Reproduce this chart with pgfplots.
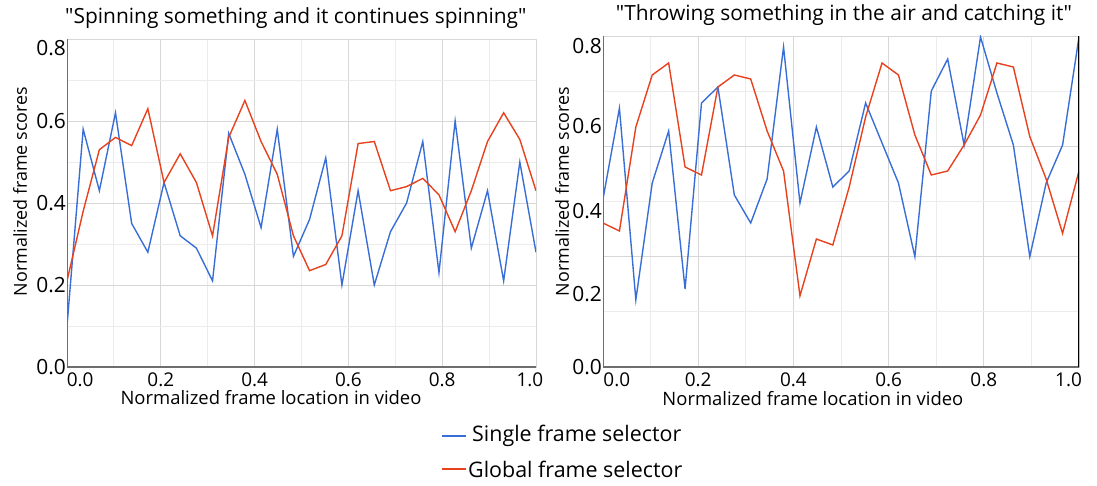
\documentclass[border=0pt]{standalone}
\usepackage{fontspec}
\setmainfont{Open Sans}
\usepackage{pgfplots}
\usepackage{pgfplotstable}
\pgfplotsset{compat=1.18}

\definecolor{cblue}{RGB}{58,110,215}
\definecolor{cred}{RGB}{232,65,30}
\definecolor{gmaj}{RGB}{215,215,215}
\definecolor{gmin}{RGB}{236,236,236}
\definecolor{spine}{RGB}{110,110,110}

% frame index / 29, then the four series
\pgfplotstableread{
x      sl    gl     sr     gr
0.0000 0.10  0.21   0.42   0.36
0.0345 0.58  0.38   0.647  0.34
0.0690 0.43  0.53   0.168  0.60
0.1034 0.62  0.56   0.46   0.73
0.1379 0.35  0.54   0.59   0.76
0.1724 0.28  0.63   0.195  0.50
0.2069 0.45  0.45   0.66   0.48
0.2414 0.32  0.52   0.70   0.70
0.2759 0.29  0.45   0.43   0.73
0.3103 0.21  0.32   0.36   0.72
0.3448 0.57  0.56   0.47   0.59
0.3793 0.47  0.65   0.80   0.49
0.4138 0.34  0.55   0.41   0.178
0.4483 0.58  0.47   0.60   0.32
0.4828 0.27  0.32   0.45   0.305
0.5172 0.36  0.235  0.49   0.45
0.5517 0.51  0.25   0.66   0.625
0.5862 0.20  0.32   0.56   0.76
0.6207 0.43  0.545  0.46   0.73
0.6552 0.20  0.55   0.276  0.58
0.6897 0.33  0.43   0.69   0.48
0.7241 0.40  0.44   0.77   0.49
0.7586 0.55  0.46   0.555  0.555
0.7931 0.23  0.42   0.825  0.63
0.8276 0.60  0.33   0.685  0.76
0.8621 0.29  0.43   0.555  0.75
0.8966 0.43  0.55   0.276  0.576
0.9310 0.21  0.62   0.46   0.47
0.9655 0.50  0.555  0.555  0.334
1.0000 0.28  0.43   0.825  0.49
}\frames

\pgfplotsset{
  frame/.style={
    scale only axis,
    anchor=south west,
    xmin=0, xmax=1,
    ymin=0,
    axis line style={draw=gmaj},
    major tick length=0pt, minor tick length=0pt,
    xtick={0.2,0.4,0.6,0.8},
    xticklabels={0.2,0.4,0.6,0.8},
    minor xtick={0.1,0.3,0.5,0.7,0.9},
    xmajorgrids, xminorgrids,
    major grid style={draw=gmaj, line width=0.9bp},
    minor grid style={draw=gmin, line width=0.9bp},
    /pgf/number format/assume math mode=true,
    x tick label style={font=\fontsize{19}{22}\selectfont, anchor=north, inner sep=0pt, yshift=-6bp},
    y tick label style={font=\fontsize{21}{24}\selectfont, anchor=east, inner sep=0pt, xshift=-1bp},
    extra x tick style={grid=none},
    xlabel={Normalized frame location in video},
    xlabel style={font=\fontsize{18.5}{22}\selectfont},
    ylabel={Normalized frame scores},
    ylabel style={font=\fontsize{18}{21}\selectfont, rotate=0},
    title style={font=\fontsize{21}{25}\selectfont, anchor=base, yshift=10bp},
    clip=true,
  },
}

\begin{document}
\begin{tikzpicture}
\path[use as bounding box] (0,0) rectangle (1097bp,-486bp);

\begin{axis}[frame,
  at={(67bp,-367bp)},
  width=469bp, height=328bp,
  ymax=0.8,
  ytick={0,0.2,0.4,0.6},
  yticklabels={0.0,0.2,0.4,0.6},
  minor ytick={0.1,0.3,0.5,0.7},
  ymajorgrids, yminorgrids,
  extra y ticks={0.778},
  extra y tick labels={0.8},
  extra y tick style={grid=none},
  extra x ticks={0.028,0.987},
  extra x tick labels={0.0,1.0},
  xlabel style={at={(axis description cs:0.435,-0.0945)}, anchor=center},
  ylabel style={at={(axis description cs:-0.100,0.535)}, anchor=center},
  title={\textquotedbl Spinning something and it continues spinning\textquotedbl},
  title style={at={(axis description cs:0.488,1)}},
]
\addplot[color=cblue, line width=1.4bp, mark=none] table[x=x, y=sl] {\frames};
\addplot[color=cred, line width=1.4bp, mark=none] table[x=x, y=gl] {\frames};
\draw[spine, line width=1.1bp] (rel axis cs:0,1) -- (rel axis cs:0,0) -- (rel axis cs:1,0);
\end{axis}

\begin{axis}[frame,
  at={(603bp,-367bp)},
  width=476bp, height=331bp,
  ymax=0.8275,
  ytick={0,0.1825,0.39,0.6025,0.8025},
  yticklabels={0.0,0.2,0.4,0.6,0.8},
  ymajorgrids=false,
  minor ytick={0.1379,0.4138,0.6896},
  yminorgrids,
  extra y ticks={0.2758,0.5517},
  extra y tick labels={},
  extra y tick style={grid=major},
  extra x ticks={0.029,0.978},
  extra x tick labels={0.0,1.0},
  xlabel style={at={(axis description cs:0.441,-0.094)}, anchor=center},
  ylabel style={at={(axis description cs:-0.086,0.53)}, anchor=center},
  title={\textquotedbl Throwing something in the air and catching it\textquotedbl},
  title style={at={(axis description cs:0.506,1)}},
]
\addplot[color=cblue, line width=1.4bp, mark=none] table[x=x, y=sr] {\frames};
\addplot[color=cred, line width=1.4bp, mark=none] table[x=x, y=gr] {\frames};
\draw[spine, line width=1.1bp] (rel axis cs:0,1) -- (rel axis cs:0,0) -- (rel axis cs:1,0);
\draw[black, line width=1.1bp] (rel axis cs:1,0) -- (rel axis cs:1,1);
\end{axis}

% legend, shared by both panels
\draw[cblue, line width=1.4bp] (442bp,-436bp) -- (466bp,-436bp);
\node[anchor=west, inner sep=0pt, font=\fontsize{21.5}{25}\selectfont] at (472bp,-436bp) {Single frame selector};
\draw[cred, line width=1.4bp] (442bp,-469bp) -- (466bp,-469bp);
\node[anchor=west, inner sep=0pt, font=\fontsize{21.5}{25}\selectfont] at (468bp,-469bp) {Global frame selector};
\end{tikzpicture}
\end{document}
